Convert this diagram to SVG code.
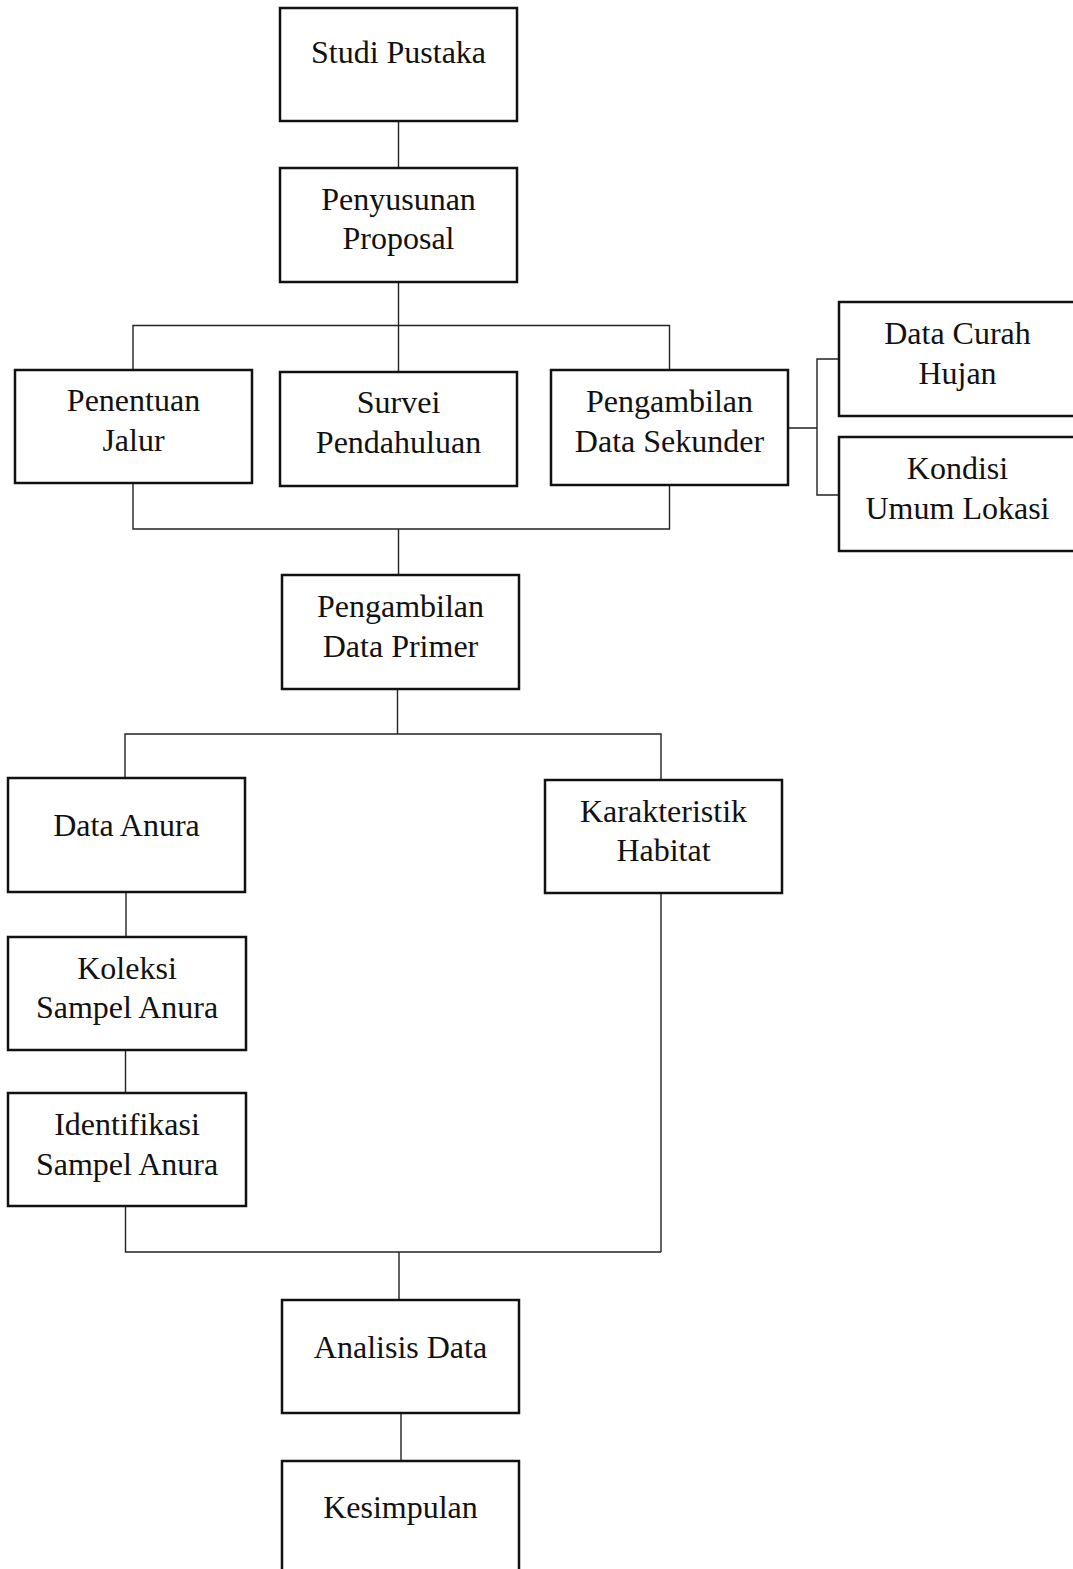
<svg xmlns="http://www.w3.org/2000/svg" width="1073" height="1569" viewBox="0 0 1073 1569">
<style>
.box{fill:#fff;stroke:#111;stroke-width:2.5}
.ln{fill:none;stroke:#222;stroke-width:1.4}
text{font-family:"Liberation Serif","Times New Roman",serif;font-size:32px;fill:#111;text-anchor:middle}
</style>
<rect width="1073" height="1569" fill="#fff"/>
<g id="connectors">
<path class="ln" d="M398.5 121V168"/>
<path class="ln" d="M398.5 283V372M133 370V325.5H669.5V370"/>
<path class="ln" d="M133 483V529H669.5V485M398.5 529V575"/>
<path class="ln" d="M788 428H817M839 359H817V495H839"/>
<path class="ln" d="M397.5 689V734M125 778V734H661V780M661 893V1252"/>
<path class="ln" d="M126 892V937M125.5 1050V1093"/>
<path class="ln" d="M125.5 1206V1252H661M399 1252V1300"/>
<path class="ln" d="M401 1413V1461"/>
</g>
<g id="studi-pustaka"><rect class="box" x="280" y="8" width="237" height="113"/><text x="398.5" y="63">Studi Pustaka</text></g>
<g id="penyusunan-proposal"><rect class="box" x="280" y="168" width="237" height="114"/><text x="398.5" y="210">Penyusunan</text><text x="398.5" y="249">Proposal</text></g>
<g id="penentuan-jalur"><rect class="box" x="15" y="370" width="237" height="113"/><text x="133.5" y="411">Penentuan</text><text x="133.5" y="451">Jalur</text></g>
<g id="survei-pendahuluan"><rect class="box" x="280" y="372" width="237" height="114"/><text x="398.5" y="413">Survei</text><text x="398.5" y="453">Pendahuluan</text></g>
<g id="pengambilan-data-sekunder"><rect class="box" x="551" y="370" width="237" height="115"/><text x="669.5" y="412">Pengambilan</text><text x="669.5" y="452">Data Sekunder</text></g>
<g id="data-curah-hujan"><rect class="box" x="839" y="302" width="240" height="114"/><text x="957.5" y="344">Data Curah</text><text x="957.5" y="384">Hujan</text></g>
<g id="kondisi-umum-lokasi"><rect class="box" x="839" y="437" width="240" height="114"/><text x="957.5" y="479">Kondisi</text><text x="957.5" y="519">Umum Lokasi</text></g>
<g id="pengambilan-data-primer"><rect class="box" x="282" y="575" width="237" height="114"/><text x="400.5" y="617">Pengambilan</text><text x="400.5" y="657">Data Primer</text></g>
<g id="data-anura"><rect class="box" x="8" y="778" width="237" height="114"/><text x="126.5" y="836">Data Anura</text></g>
<g id="karakteristik-habitat"><rect class="box" x="545" y="780" width="237" height="113"/><text x="663.5" y="822">Karakteristik</text><text x="663.5" y="861">Habitat</text></g>
<g id="koleksi-sampel-anura"><rect class="box" x="8" y="937" width="238" height="113"/><text x="127" y="979">Koleksi</text><text x="127" y="1018">Sampel Anura</text></g>
<g id="identifikasi-sampel-anura"><rect class="box" x="8" y="1093" width="238" height="113"/><text x="127" y="1135">Identifikasi</text><text x="127" y="1175">Sampel Anura</text></g>
<g id="analisis-data"><rect class="box" x="282" y="1300" width="237" height="113"/><text x="400.5" y="1358">Analisis Data</text></g>
<g id="kesimpulan"><rect class="box" x="282" y="1461" width="237" height="120"/><text x="400.5" y="1518">Kesimpulan</text></g>
</svg>
